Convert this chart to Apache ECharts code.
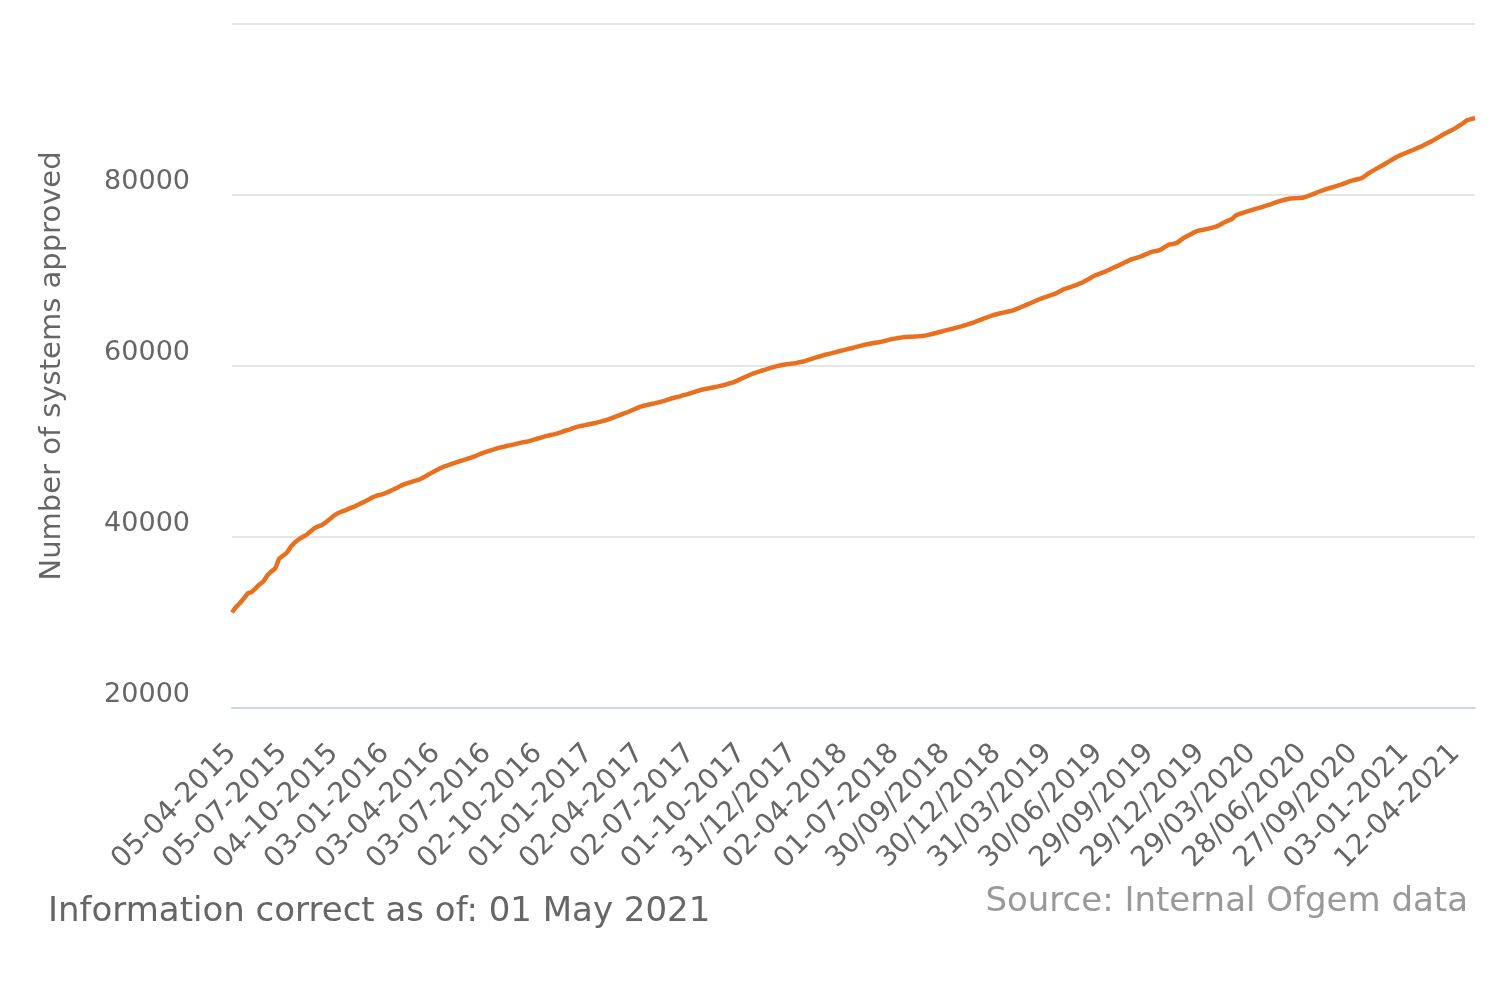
<!DOCTYPE html>
<html>
<head>
<meta charset="utf-8">
<style>html,body{margin:0;padding:0;background:#fff;}#chart{width:1500px;height:1000px;}</style>
<script src="https://cdn.jsdelivr.net/npm/echarts@6/dist/echarts.min.js"></script>
</head>
<body>
<div id="chart"></div>
<script>
// Tick labels shown every 13 weeks
const tickLabels = ["05-04-2015","05-07-2015","04-10-2015","03-01-2016","03-04-2016","03-07-2016","02-10-2016","01-01-2017","02-04-2017","02-07-2017","01-10-2017","31/12/2017","02-04-2018","01-07-2018","30/09/2018","30/12/2018","31/03/2019","30/06/2019","29/09/2019","29/12/2019","29/03/2020","28/06/2020","27/09/2020","03-01-2021","12-04-2021"];

// Cumulative number of systems approved (weekly)
const approved = [
31170,31800,32250,32800,33400,33560,34000,34450,34800,35500,
35950,36300,37450,37800,38150,38850,39350,39720,40000,40250,
40650,41020,41250,41420,41750,42110,42500,42780,42980,43150,
43350,43520,43750,43960,44180,44420,44680,44850,44960,45110,
45310,45520,45740,45980,46180,46330,46480,46620,46780,47000,
47280,47530,47780,48020,48220,48380,48560,48700,48850,49000,
49150,49280,49450,49650,49830,49980,50130,50280,50420,50520,
50640,50740,50830,50950,51060,51130,51250,51380,51520,51660,
51800,51900,52000,52120,52270,52430,52560,52720,52880,52990,
53080,53180,53270,53370,53500,53620,53770,53940,54110,54280,
54450,54620,54820,55020,55220,55350,55460,55550,55660,55780,
55900,56050,56200,56320,56420,56560,56680,56830,56980,57120,
57250,57340,57420,57510,57620,57720,57840,57980,58120,58320,
58540,58750,58950,59130,59290,59440,59570,59720,59860,59980,
60090,60180,60230,60280,60360,60460,60560,60720,60860,61000,
61140,61280,61390,61500,61630,61750,61860,61980,62080,62200,
62330,62450,62540,62630,62710,62780,62880,63000,63120,63200,
63280,63350,63390,63420,63440,63470,63520,63580,63680,63800,
63920,64040,64160,64280,64390,64510,64630,64780,64920,65060,
65240,65420,65590,65760,65930,66050,66170,66270,66380,66480,
66650,66840,67030,67230,67430,67630,67830,68000,68150,68310,
68460,68700,68950,69100,69250,69420,69610,69800,70050,70320,
70570,70750,70930,71100,71320,71540,71740,71950,72180,72400,
72560,72690,72850,73050,73250,73400,73470,73650,73960,74200,
74270,74400,74750,75060,75300,75540,75770,75880,75960,76070,
76180,76300,76530,76780,77000,77180,77620,77800,77950,78090,
78230,78370,78500,78640,78790,78940,79100,79260,79380,79500,
79600,79620,79640,79680,79820,79990,80170,80350,80520,80680,
80820,80960,81090,81250,81420,81600,81730,81840,81950,82250,
82580,82850,83110,83370,83630,83910,84180,84450,84660,84850,
85040,85230,85430,85620,85840,86070,86300,86560,86830,87110,
87330,87560,87820,88120,88420,88750,88880,89000
];

const labelStep = 13;
const categories = approved.map((v, i) => i);

const chart = echarts.init(document.getElementById('chart'));
chart.setOption({
  animation: false,
  backgroundColor: '#ffffff',
  grid: { left: 232, right: 25, top: 24, bottom: 292, containLabel: false },
  xAxis: {
    type: 'category',
    data: categories,
    boundaryGap: false,
    axisLine: { show: true, lineStyle: { color: '#ccd6eb', width: 2 } },
    axisTick: { show: false },
    axisLabel: {
      interval: labelStep - 1,
      rotate: 45,
      margin: 41,
      color: '#666666',
      fontFamily: 'DejaVu Sans',
      fontSize: 28,
      formatter: function (value, index) {
        return index % labelStep === 0 ? (tickLabels[index / labelStep] || '') : '';
      }
    },
    splitLine: { show: false }
  },
  yAxis: {
    type: 'value',
    min: 20000,
    max: 100000,
    interval: 20000,
    name: 'Number of systems approved',
    nameLocation: 'middle',
    nameGap: 165,
    nameRotate: 90,
    nameTextStyle: { color: '#666666', fontFamily: 'DejaVu Sans', fontSize: 29 },
    axisLine: { show: false },
    axisTick: { show: false },
    axisLabel: {
      margin: 42,
      color: '#666666',
      fontFamily: 'DejaVu Sans',
      fontSize: 27,
      verticalAlign: 'bottom',
      lineHeight: 26,
      formatter: function (v) { return v >= 100000 ? '' : String(v); }
    },
    splitLine: { lineStyle: { color: '#e6e6e6', width: 2 } }
  },
  series: [{
    type: 'line',
    data: approved,
    showSymbol: false,
    symbol: 'none',
    lineStyle: { color: '#e8701e', width: 4.5 },
    itemStyle: { color: '#e8701e' }
  }],
  graphic: [
    { type: 'text', left: 48, top: 895, style: { text: 'Information correct as of: 01 May 2021', fill: '#666666', font: '34px "DejaVu Sans"' } },
    { type: 'text', right: 32, top: 885, style: { text: 'Source: Internal Ofgem data', fill: '#999999', font: '34px "DejaVu Sans"' } }
  ]
});
</script>
</body>
</html>
